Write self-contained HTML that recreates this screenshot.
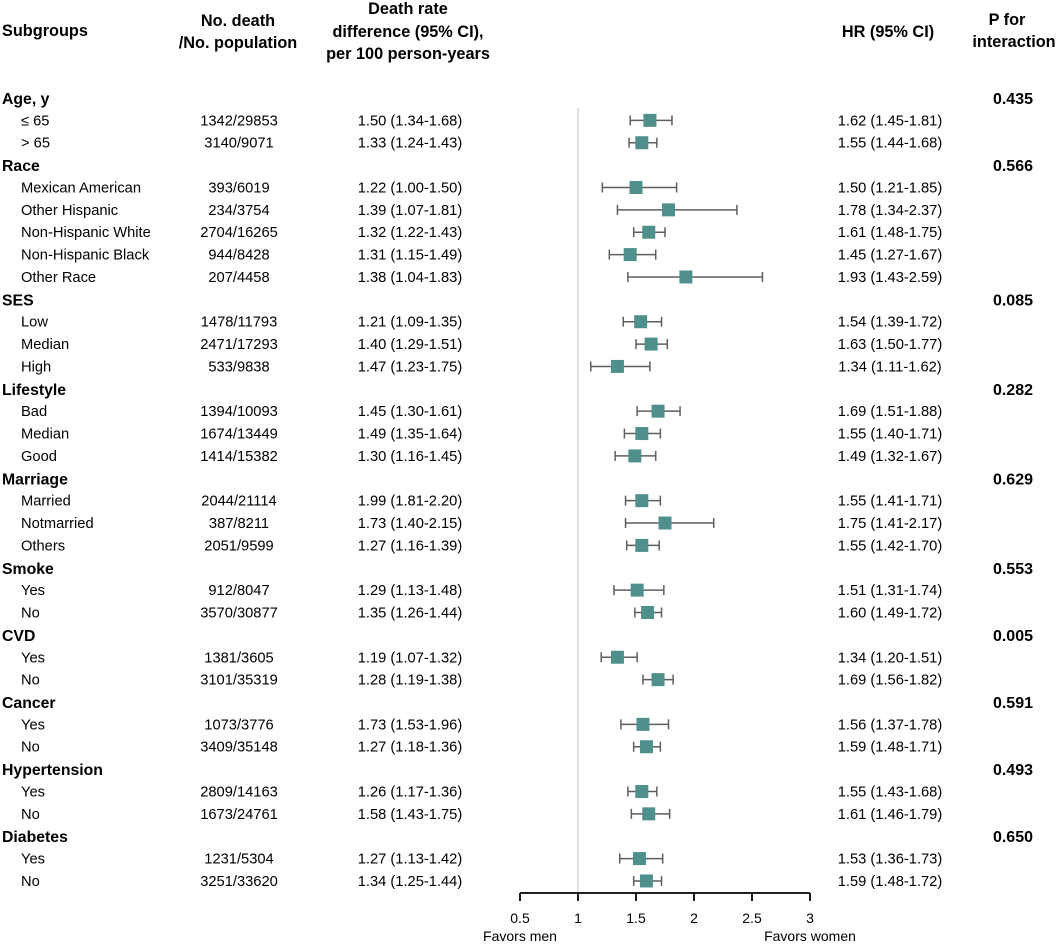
<!DOCTYPE html>
<html><head><meta charset="utf-8"><style>
body{margin:0;background:#fff;}
svg text{font-family:"Liberation Sans",Arial,sans-serif;fill:#000;}
</style></head><body>
<svg id="plot" width="1056" height="942" xmlns="http://www.w3.org/2000/svg">
<g font-weight="bold" font-size="16.3">
<text x="2" y="36">Subgroups</text>
<text x="238" y="26" text-anchor="middle">No. death</text>
<text x="238" y="48" text-anchor="middle">/No. population</text>
<text x="408" y="14" text-anchor="middle">Death rate</text>
<text x="408" y="37" text-anchor="middle">difference (95% CI),</text>
<text x="408" y="59" text-anchor="middle">per 100 person-years</text>
<text x="888" y="37" text-anchor="middle">HR (95% CI)</text>
<text x="1007" y="25" text-anchor="middle">P for</text>
<text x="1014" y="47" text-anchor="middle">interaction</text>
</g>
<g id="rows"></g>
<g id="axis"></g>
</svg>
<script>
const labels=["Age, y","≤ 65","> 65","Race","Mexican American","Other Hispanic","Non-Hispanic White","Non-Hispanic Black","Other Race","SES","Low","Median","High","Lifestyle","Bad","Median","Good","Marriage","Married","Notmarried","Others","Smoke","Yes","No","CVD","Yes","No","Cancer","Yes","No","Hypertension","Yes","No","Diabetes","Yes","No"];
const counts=["","1342/29853","3140/9071","","393/6019","234/3754","2704/16265","944/8428","207/4458","","1478/11793","2471/17293","533/9838","","1394/10093","1674/13449","1414/15382","","2044/21114","387/8211","2051/9599","","912/8047","3570/30877","","1381/3605","3101/35319","","1073/3776","3409/35148","","2809/14163","1673/24761","","1231/5304","3251/33620"];
const rates=["","1.50 (1.34-1.68)","1.33 (1.24-1.43)","","1.22 (1.00-1.50)","1.39 (1.07-1.81)","1.32 (1.22-1.43)","1.31 (1.15-1.49)","1.38 (1.04-1.83)","","1.21 (1.09-1.35)","1.40 (1.29-1.51)","1.47 (1.23-1.75)","","1.45 (1.30-1.61)","1.49 (1.35-1.64)","1.30 (1.16-1.45)","","1.99 (1.81-2.20)","1.73 (1.40-2.15)","1.27 (1.16-1.39)","","1.29 (1.13-1.48)","1.35 (1.26-1.44)","","1.19 (1.07-1.32)","1.28 (1.19-1.38)","","1.73 (1.53-1.96)","1.27 (1.18-1.36)","","1.26 (1.17-1.36)","1.58 (1.43-1.75)","","1.27 (1.13-1.42)","1.34 (1.25-1.44)"];
const hr=[null,1.62,1.55,null,1.50,1.78,1.61,1.45,1.93,null,1.54,1.63,1.34,null,1.69,1.55,1.49,null,1.55,1.75,1.55,null,1.51,1.60,null,1.34,1.69,null,1.56,1.59,null,1.55,1.61,null,1.53,1.59];
const lo=[null,1.45,1.44,null,1.21,1.34,1.48,1.27,1.43,null,1.39,1.50,1.11,null,1.51,1.40,1.32,null,1.41,1.41,1.42,null,1.31,1.49,null,1.20,1.56,null,1.37,1.48,null,1.43,1.46,null,1.36,1.48];
const hi=[null,1.81,1.68,null,1.85,2.37,1.75,1.67,2.59,null,1.72,1.77,1.62,null,1.88,1.71,1.67,null,1.71,2.17,1.70,null,1.74,1.72,null,1.51,1.82,null,1.78,1.71,null,1.68,1.79,null,1.73,1.72];
const pvals=["0.435","","","0.566","","","","","","0.085","","","","0.282","","","","0.629","","","","0.553","","","0.005","","","0.591","","","0.493","","","0.650","",""];
const ticks=[0.5,1,1.5,2,2.5,3];
const xs=v=>520+(v-0.5)*116;
const ys=i=>98+i*22.37;
const NS="http://www.w3.org/2000/svg";
function mk(tag,attrs,parent,txt){const e=document.createElementNS(NS,tag);for(const k in attrs)e.setAttribute(k,attrs[k]);if(txt!==undefined)e.textContent=txt;parent.appendChild(e);return e;}
const rows=document.getElementById('rows');
const ref=mk('line',{x1:xs(1),x2:xs(1),y1:108,y2:892,stroke:'#cfcfcf','stroke-width':1.3},rows);


labels.forEach((l,i)=>{
  const y=ys(i)+5;
  const head=hr[i]===null;
  const t=mk('text',{x:head?2:21,y:y+(head?1:0),'font-size':head?15.8:14.7,'font-weight':head?'bold':'normal'},rows,l);
  
  
  if(pvals[i]){const p=mk('text',{x:1033,y:y+1,'text-anchor':'end','font-size':16,'font-weight':'bold'},rows,pvals[i]);
    
    }
  if(head)return;
  const c=mk('text',{x:239,y:y,'text-anchor':'middle','font-size':14.7},rows,counts[i]);
  
  
  const r=mk('text',{x:410,y:y,'text-anchor':'middle','font-size':14.7},rows,rates[i]);
  
  
  const h=mk('text',{x:890,y:y,'text-anchor':'middle','font-size':14.7},rows,hr[i].toFixed(2)+' ('+lo[i].toFixed(2)+'-'+hi[i].toFixed(2)+')');
  
  
  const cy=ys(i);
  const g=mk('g',{stroke:'#5e5e5e','stroke-width':1.5},rows);
  
  
  mk('line',{x1:xs(lo[i]),x2:xs(hi[i]),y1:cy,y2:cy},g);
  mk('line',{x1:xs(lo[i]),x2:xs(lo[i]),y1:cy-5,y2:cy+5},g);
  mk('line',{x1:xs(hi[i]),x2:xs(hi[i]),y1:cy-5,y2:cy+5},g);
  const s=mk('rect',{x:xs(hr[i])-6.5,y:cy-6.5,width:13,height:13,fill:'#4f8f8c'},rows);
  
  
});
const ax=document.getElementById('axis');
mk('line',{x1:xs(0.5),x2:xs(3),y1:893,y2:893,stroke:'#000','stroke-width':1.8},ax);
ticks.forEach(t=>{
  mk('line',{x1:xs(t),x2:xs(t),y1:893,y2:901,stroke:'#000','stroke-width':1.8},ax);
  const tl=mk('text',{x:xs(t),y:923,'text-anchor':'middle','font-size':14},ax,String(t));
  
  
});
const fm=mk('text',{x:xs(0.5),y:941,'text-anchor':'middle','font-size':14},ax,'Favors men');


const fw=mk('text',{x:xs(3),y:941,'text-anchor':'middle','font-size':14},ax,'Favors women');


</script>
</body></html>
